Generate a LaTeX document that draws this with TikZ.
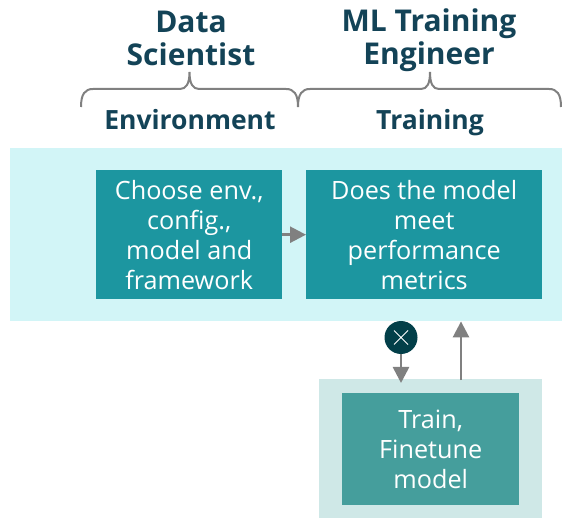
\documentclass[tikz,border=0pt]{standalone}
\usepackage{fontspec}
\setmainfont{Open Sans}
\usepackage{xcolor}
\usetikzlibrary{arrows.meta,positioning,shapes.misc}
\definecolor{bandcolor}{HTML}{D2F5F7}
\definecolor{boxcolor}{HTML}{1C96A0}
\definecolor{lowerbandcolor}{HTML}{CFE8E7}
\definecolor{lowerboxcolor}{HTML}{459E9C}
\definecolor{stopcolor}{HTML}{023F49}
\definecolor{headcolor}{HTML}{134357}
\definecolor{linecolor}{HTML}{808080}
\tikzset{
  band/.style={anchor=north west,inner sep=0pt,fill=#1},
  stepbox/.style={anchor=north west,inner sep=0pt,align=center,text=white,fill=#1,
    font=\fontsize{25.2}{30}\selectfont},
  head/.style={align=center,text=headcolor,font=\fontsize{30}{33}\selectfont\bfseries},
  subhead/.style={anchor=base,text=headcolor,font=\fontsize{26.5}{30}\selectfont\bfseries},
  arrowline/.style={draw=linecolor,line width=2.6pt,-{Triangle[length=16pt,width=16pt]}},
  bracket/.style={draw=linecolor,line width=2pt}
}
\begin{document}
\begin{tikzpicture}[x=1pt,y=-1pt]
  \useasboundingbox (0,0) rectangle (562,518);

  \node[band=bandcolor,minimum width=552pt,minimum height=173pt] (upper) at (10,148) {};
  \node[band=lowerbandcolor,minimum width=223pt,minimum height=139pt] (lower) at (319,379) {};

  \node[stepbox=boxcolor,minimum width=186pt,minimum height=129pt] (choose) at (96,170)
    {Choose env.,\\config.,\\model and\\framework};
  \node[stepbox=boxcolor,minimum width=236pt,minimum height=129pt] (meet) at (306,170)
    {Does the model\\meet\\performance\\metrics};
  \node[stepbox=lowerboxcolor,minimum width=177pt,minimum height=112pt] (train) at (342,393)
    {Train,\\Finetune\\model};

  \node[head] (scientist) at (191,38.5) {Data\\Scientist};
  \node[head] (engineer) at (429,40.5) {ML Training\\Engineer};
  \node[subhead] (environment) at (190,130) {Environment};
  \node[subhead] (training) at (430,130) {Training};

  \coordinate (braceleft) at (81,107);
  \coordinate (bracemid) at (298,107);
  \coordinate (braceright) at (561,107);
  \draw[bracket] (braceleft) .. controls (81,94) and (85,89) .. (93,89) -- (180,89)
    .. controls (186,89) and (189.5,84) .. (189.5,72) .. controls (189.5,84) and (193,89) .. (199,89)
    -- (286,89) .. controls (294,89) and (298,94) .. (bracemid);
  \draw[bracket] (bracemid) .. controls (298,94) and (302,89) .. (310,89) -- (421,89)
    .. controls (427,89) and (430,84) .. (430,72) .. controls (430,84) and (433,89) .. (439,89)
    -- (549,89) .. controls (557,89) and (561,94) .. (braceright);

  \node[circle,fill=stopcolor,minimum size=33pt,inner sep=0pt] (stop) at (401,337.5) {};
  \node[cross out,draw=white,line width=1pt,minimum size=13pt,inner sep=0pt] (stopmark) at (stop) {};
  \coordinate (retry) at (461,380);

  \draw[arrowline] (choose) -- (meet);
  \draw[arrowline,shorten >=-4pt] (stop) -- (stop |- lower.north);
  \draw[arrowline] (retry) -- (retry |- upper.south);
\end{tikzpicture}
\end{document}
